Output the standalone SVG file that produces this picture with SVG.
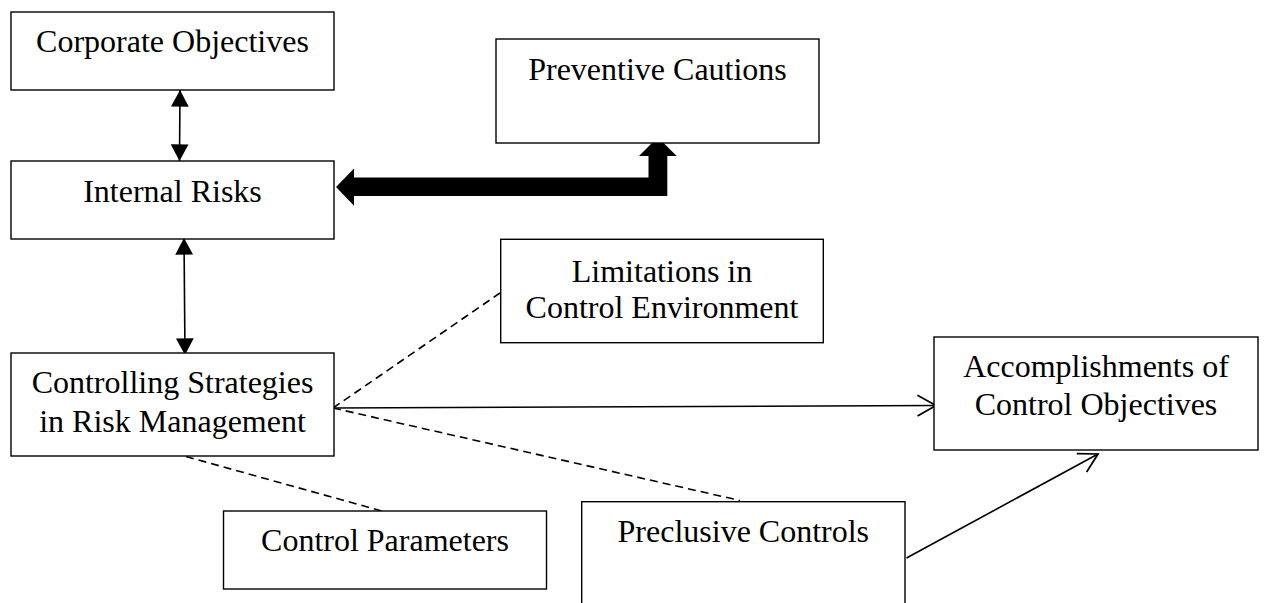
<svg xmlns="http://www.w3.org/2000/svg" width="1264" height="603" viewBox="0 0 1264 603">
  <style>
    .box { fill: #ffffff; stroke: #000000; stroke-width: 1.4; }
    .lbl { font-family: "Liberation Serif", "Times New Roman", serif; font-size: 32px; fill: #000000; text-anchor: middle; }
    .line { fill: none; stroke: #000000; stroke-width: 1.6; }
    .dash { fill: none; stroke: #000000; stroke-width: 1.6; stroke-dasharray: 8 5; }
  </style>
  <defs>
    <marker id="solidHead" markerUnits="userSpaceOnUse" markerWidth="20" markerHeight="20" viewBox="-16 -9 17 18" refX="0" refY="0" orient="auto-start-reverse">
      <path d="M0,0 L-15,-8 L-15,8 Z" fill="#000000"/>
    </marker>
    <marker id="openHead" markerUnits="userSpaceOnUse" markerWidth="24" markerHeight="24" viewBox="-19 -11 21 22" refX="0" refY="0" orient="auto">
      <path d="M-17,-9.5 L0,0 L-17,9.5" fill="none" stroke="#000000" stroke-width="1.6"/>
    </marker>
  </defs>

  <rect width="1264" height="603" fill="#ffffff"/>

  <!-- connectors -->
  <g id="connectors">
    <line class="line" x1="180" y1="90" x2="179.5" y2="161" marker-start="url(#solidHead)" marker-end="url(#solidHead)"/>
    <line class="line" x1="184" y1="238" x2="185" y2="355" marker-start="url(#solidHead)" marker-end="url(#solidHead)"/>
    <polygon points="336,187 354,168.5 354,177.5 648.5,177.5 648.5,156 639,156 657.7,137.3 676.7,156 667.3,156 667.3,196 354,196 354,205.7" fill="#000000"/>
    <line class="dash" x1="333" y1="408" x2="500" y2="293"/>
    <line class="dash" x1="333" y1="408" x2="740" y2="500.5"/>
    <line class="dash" x1="186" y1="456.5" x2="383.5" y2="511.5"/>
    <line class="line" x1="333" y1="408" x2="936" y2="405.5" marker-end="url(#openHead)"/>
    <line class="line" x1="906.5" y1="558" x2="1098" y2="454" marker-end="url(#openHead)"/>
  </g>

  <g id="corporate-objectives">
    <rect class="box" x="11" y="12" width="323" height="78"/>
    <text class="lbl" x="172.5" y="52">Corporate Objectives</text>
  </g>

  <g id="internal-risks">
    <rect class="box" x="11" y="161" width="323" height="78"/>
    <text class="lbl" x="172.5" y="201.5">Internal Risks</text>
  </g>

  <g id="controlling-strategies">
    <rect class="box" x="11" y="353" width="323" height="103"/>
    <text class="lbl" x="172.5" y="393">Controlling Strategies</text>
    <text class="lbl" x="172.5" y="431.5">in Risk Management</text>
  </g>

  <g id="preventive-cautions">
    <rect class="box" x="496" y="39" width="323" height="104"/>
    <text class="lbl" x="657.5" y="79.5">Preventive Cautions</text>
  </g>

  <g id="limitations">
    <rect class="box" x="500.7" y="239.3" width="322.6" height="103.4"/>
    <text class="lbl" x="662" y="282">Limitations in</text>
    <text class="lbl" x="662" y="318">Control Environment</text>
  </g>

  <g id="accomplishments">
    <rect class="box" x="934" y="337" width="324" height="113"/>
    <text class="lbl" x="1096" y="376.5">Accomplishments of</text>
    <text class="lbl" x="1096" y="415">Control Objectives</text>
  </g>

  <g id="control-parameters">
    <rect class="box" x="223.5" y="511" width="323" height="78"/>
    <text class="lbl" x="385" y="550.5">Control Parameters</text>
  </g>

  <g id="preclusive-controls">
    <rect class="box" x="581.7" y="501.7" width="323.3" height="120"/>
    <text class="lbl" x="743.3" y="541.5">Preclusive Controls</text>
  </g>
</svg>
